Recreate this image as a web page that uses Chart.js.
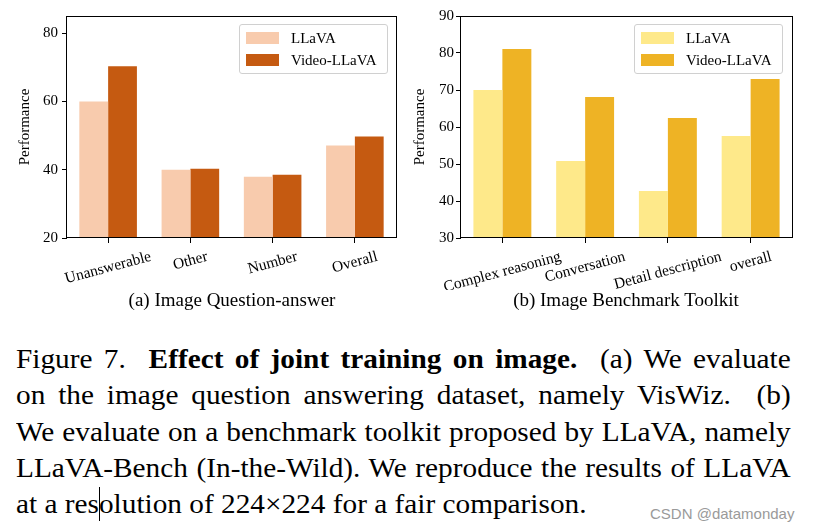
<!DOCTYPE html>
<html>
<head>
<meta charset="utf-8">
<script src="https://cdn.jsdelivr.net/npm/chart.js@4.4.0/dist/chart.umd.min.js"></script>
<style>
  body { margin: 0; background: #fff; }
  #page { position: relative; width: 813px; height: 532px; overflow: hidden; background: #fff;
          font-family: "Liberation Serif", "Times New Roman", serif; color: #000; }
  canvas { position: absolute; top: 0; }
  #qaChart { left: 0; }
  #benchChart { left: 405px; }
  .legend { position: absolute; top: 24px; width: 147px; height: 48px; border: 1px solid #d0d0d0;
            border-radius: 3px; background: rgba(255,255,255,0.8); font-size: 15px; }
  .legend .item { position: absolute; left: 6px; height: 12px; }
  .legend .swatch { position: absolute; left: 0; top: 0; width: 33px; height: 12px; }
  .legend .text { position: absolute; left: 45px; top: -3px; white-space: nowrap; line-height: 18px; }
  .caption { position: absolute; top: 289px; font-size: 19px; white-space: nowrap; transform: translateX(-50%); }
  #para { position: absolute; left: 16px; top: 341px; width: 714px; font-size: 27px; line-height: 36.25px;
          transform: scaleX(1.085); transform-origin: 0 0; }
  #para div { text-align: justify; text-align-last: justify; white-space: nowrap; }
  #para div.last { text-align: left; text-align-last: left; }
  #cursor { position: absolute; left: 99px; top: 487px; width: 1px; height: 34px; background: #000; }
  #mark { position: absolute; left: 650px; top: 505px; font-family: "Liberation Sans", Arial, sans-serif;
          font-size: 15px; color: #9a9a9a; white-space: nowrap; }
</style>
</head>
<body>
<div id="page">
  <canvas id="qaChart" width="405" height="290"></canvas>
  <canvas id="benchChart" width="408" height="290"></canvas>
  <div class="legend" id="qaLegend" style="left:239px"></div>
  <div class="legend" id="benchLegend" style="left:634px"></div>
  <div class="caption" style="left:232px">(a) Image Question-answer</div>
  <div class="caption" style="left:626px">(b) Image Benchmark Toolkit</div>
  <div id="para">
    <div>Figure 7.&nbsp; <b>Effect of joint training on image.</b>&nbsp; (a) We evaluate</div>
    <div>on the image question answering dataset, namely VisWiz.&nbsp; (b)</div>
    <div>We evaluate on a benchmark toolkit proposed by LLaVA, namely</div>
    <div>LLaVA-Bench (In-the-Wild). We reproduce the results of LLaVA</div>
    <div class="last">at a resolution of 224×224 for a fair comparison.</div>
  </div>
  <div id="cursor"></div>
  <div id="mark">CSDN @datamonday</div>
</div>
<script>
// (a) Image Question-answer
const qaCategories = ['Unanswerable', 'Other', 'Number', 'Overall'];
const qaLlava = [60.0, 40.0, 37.9, 47.1];
const qaVideoLlava = [70.3, 40.3, 38.5, 49.7];
const qaTicks = [20, 40, 60, 80];

// (b) Image Benchmark Toolkit
const benchCategories = ['Complex reasoning', 'Conversation', 'Detail description', 'overall'];
const benchLlava = [70.0, 50.8, 42.7, 57.6];
const benchVideoLlava = [81.1, 68.1, 62.4, 73.0];
const benchTicks = [30, 40, 50, 60, 70, 80, 90];

const seriesNames = ['LLaVA', 'Video-LLaVA'];
const serif = '"Liberation Serif", "Times New Roman", serif';

Chart.defaults.font.family = serif;
Chart.defaults.color = '#000';

// box around the plot area, like the matplotlib axes frame
const framePlugin = {
  id: 'frame',
  afterDatasetsDraw(chart) {
    const a = chart.chartArea;
    const ctx = chart.ctx;
    ctx.save();
    ctx.strokeStyle = '#000';
    ctx.lineWidth = 1;
    ctx.strokeRect(Math.round(a.left) - 0.5, Math.round(a.top) + 0.5,
      Math.round(a.right - a.left) + 1, Math.round(a.bottom - a.top) - 1);
    ctx.restore();
  }
};

// x labels rotated 15deg and centred under the tick
const slantLabels = {
  id: 'slantLabels',
  afterDraw(chart) {
    const xs = chart.scales.x;
    const ctx = chart.ctx;
    const ang = 15 * Math.PI / 180;
    const size = 15.5;
    ctx.save();
    ctx.font = size + 'px ' + serif;
    ctx.fillStyle = '#000';
    ctx.textAlign = 'center';
    ctx.textBaseline = 'middle';
    chart.data.labels.forEach((label, i) => {
      const w = ctx.measureText(label).width;
      const boxH = w * Math.sin(ang) + size * Math.cos(ang);
      const x = xs.getPixelForTick(i);
      const y = chart.chartArea.bottom + 11 + boxH / 2;
      ctx.save();
      ctx.translate(x, y);
      ctx.rotate(-ang);
      ctx.fillText(label, 0, 0);
      ctx.restore();
    });
    ctx.restore();
  }
};

function buildChart(id, legendId, cfg) {
  const chart = new Chart(document.getElementById(id), {
    type: 'bar',
    data: {
      labels: cfg.labels,
      datasets: [
        { label: seriesNames[0], data: cfg.a, backgroundColor: cfg.colors[0] },
        { label: seriesNames[1], data: cfg.b, backgroundColor: cfg.colors[1] }
      ]
    },
    options: {
      responsive: false,
      animation: false,
      devicePixelRatio: 1,
      layout: { padding: { top: 16, right: cfg.padRight, left: 0, bottom: 0 } },
      datasets: { bar: { categoryPercentage: 0.7, barPercentage: 1.0, borderWidth: 0 } },
      plugins: { legend: { display: false }, tooltip: { enabled: false } },
      scales: {
        x: {
          grid: { offset: false, drawOnChartArea: false, drawTicks: true, tickLength: 5, color: '#000' },
          border: { display: false },
          ticks: { display: false },
          afterFit: s => { s.height = 52; }
        },
        y: {
          min: cfg.min,
          max: cfg.max,
          afterBuildTicks: s => { s.ticks = cfg.ticks.map(v => ({ value: v })); },
          grid: { drawOnChartArea: false, drawTicks: true, tickLength: 5, color: '#000' },
          border: { display: false },
          ticks: { font: { size: 15 }, padding: cfg.tickPad, color: '#000' },
          title: { display: true, text: 'Performance', font: { size: 15 }, padding: { top: cfg.titlePad, bottom: 0 } },
          afterFit: s => { s.width = cfg.yWidth; }
        }
      }
    },
    plugins: [framePlugin, slantLabels]
  });

  // legend built from the chart's datasets
  const box = document.getElementById(legendId);
  chart.data.datasets.forEach((ds, i) => {
    const item = document.createElement('div');
    item.className = 'item';
    item.style.top = (7 + i * 21.5) + 'px';
    item.innerHTML = '<span class="swatch" style="background:' + ds.backgroundColor + '"></span>' +
      '<span class="text">' + ds.label + '</span>';
    box.appendChild(item);
  });
  return chart;
}

buildChart('qaChart', 'qaLegend', {
  labels: qaCategories, a: qaLlava, b: qaVideoLlava,
  colors: ['#f8cbad', '#c55a11'],
  min: 20, max: 85, ticks: qaTicks,
  yWidth: 67, padRight: 9, tickPad: 4, titlePad: 16
});

buildChart('benchChart', 'benchLegend', {
  labels: benchCategories, a: benchLlava, b: benchVideoLlava,
  colors: ['#fee98a', '#eeb325'],
  min: 30, max: 90, ticks: benchTicks,
  yWidth: 56, padRight: 21, tickPad: 2, titlePad: 6
});
</script>
</body>
</html>
